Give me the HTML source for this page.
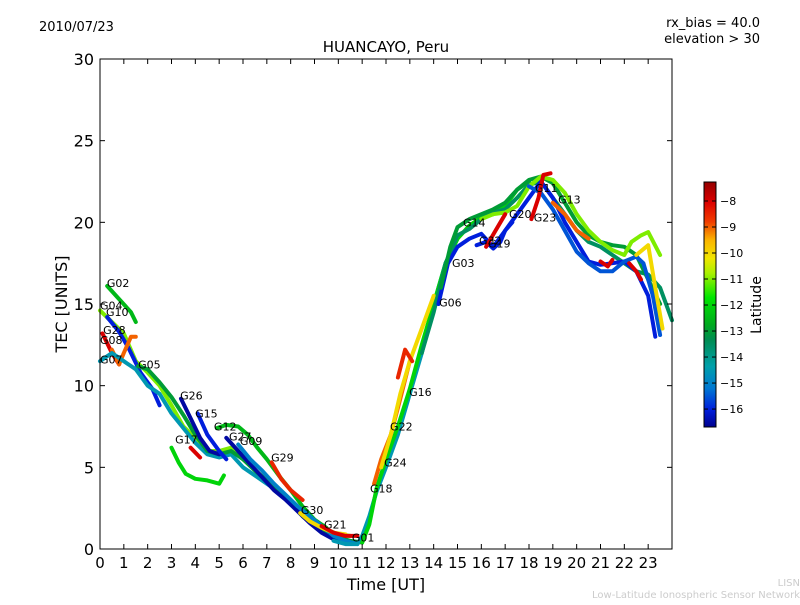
<!DOCTYPE html>
<html><head><meta charset="utf-8"><style>
body{margin:0;background:#fff;}
svg text{font-family:"DejaVu Sans","Liberation Sans",sans-serif;}
</style></head><body>
<svg id="chart" width="800" height="600" xmlns="http://www.w3.org/2000/svg">
<rect width="800" height="600" fill="#fff"/>
<text x="39" y="31" font-size="13">2010/07/23</text>
<text x="760" y="27" font-size="13" text-anchor="end">rx_bias = 40.0</text>
<text x="760" y="43" font-size="13" text-anchor="end">elevation &gt; 30</text>
<text x="386" y="52" font-size="15" text-anchor="middle">HUANCAYO, Peru</text>
<g id="tracks"></g>
<g id="labels"></g>
<rect x="100" y="59" width="572" height="490" fill="none" stroke="#000" stroke-width="1"/>
<g id="axes"></g>
<text x="386" y="590" font-size="16" text-anchor="middle">Time [UT]</text>
<text transform="translate(67,304) rotate(-90)" font-size="16" text-anchor="middle">TEC [UNITS]</text>
<g id="cbar"></g>
<text transform="translate(761,305) rotate(-90)" font-size="14" text-anchor="middle">Latitude</text>
<text x="800" y="586" font-size="10" fill="#ccc" text-anchor="end">LISN</text>
<text x="800" y="598" font-size="10" fill="#ccc" text-anchor="end">Low-Latitude Ionospheric Sensor Network</text>
</svg>
<script>
const xTicks=[0,1,2,3,4,5,6,7,8,9,10,11,12,13,14,15,16,17,18,19,20,21,22,23];
const yTicks=[0,5,10,15,20,25,30];
const cbTicks=[-8,-9,-10,-11,-12,-13,-14,-15,-16];
const trackLat=[-12.5,-11,-16,-8,-9,-14.5,-13,-16.5,-16,-12,-8,-12.5,-16.5,-15,-8.5,-10,-8,-14.5,-12,-9,-10,-8.5,-13.5,-16,-13,-11,-15.5,-8,-9,-16,-8,-8,-8,-10];
const trackT=[
[0.3,0.8,1.3,1.5],
[0,0.5,1,1.5,2,2.5,3,3.5,4,4.5,5,5.5,6,7,8,9,10,10.5],
[0.3,0.8,1.2,1.7,2.2,2.5],
[0.1,0.5,0.8],
[0.5,0.8,1.0,1.3,1.5],
[0,0.5,1,1.5,2,2.5,3,3.5,4,4.5,5,5.5,6,6.5,7,8],
[1.6,2,2.5,3,3.5,4,4.5,5,5.5,6,6.5,7,7.5,8,8.5,9,9.5,10,10.5,11],
[3.4,3.8,4.2,4.6,5],
[4.1,4.5,5,5.3],
[3.0,3.3,3.6,4,4.5,5,5.2],
[3.8,4.2],
[4.9,5.3,5.8,6.2,6.6,7,7.5,8,8.5,9,9.5],
[5.3,5.8,6.3,6.8,7.3,7.8,8.3,8.8,9.3,9.8,10.3],
[5.8,6.3,6.8,7.3,7.8,8.3,8.8,9.3,9.8,10.3,10.8],
[7.2,7.6,8.0,8.5],
[8.4,8.8,9.3,9.8,10.3],
[9.3,9.8,10.3,10.8],
[9.8,10.3,10.8,11,11.3,11.6,12,12.5,13,13.5,14,14.5,15],
[11,11.3,11.6,12,12.5,13,13.5,14,14.5,15,15.5,16,16.5,17,17.5,18],
[11.5,11.8,12.2,12.6,13],
[11.8,12.2,12.6,13,13.5,14],
[12.5,12.8,13.1],
[13.5,14,14.5,15,15.5,16,16.5,17,17.5,18,18.5,19,19.5,20,20.5,21,21.5,22,22.5,23,23.5,24],
[14.2,14.6,15,15.5,16,16.5,17,17.5,18,18.5,19,19.5,20,20.5,21,21.5,22,22.5,23,23.3],
[14.3,14.7,15,15.5,16,16.5,17,17.5,18,18.5,19,19.5,20,20.5,21,21.5,22,22.5,23,23.5],
[16,16.5,17,17.5,18,18.5,19,19.5,20,20.5,21,21.5,22,22.3,22.7,23,23.5],
[18,18.5,19,19.5,20,20.5,21,21.5,22,22.5,22.8,23.2,23.5],
[18.1,18.4,18.6,18.9],
[19,19.5,20,20.5],
[15.8,16.2,16.5,16.8,17,17.3],
[16.2,16.6,17],
[21,21.3,21.5],
[22.2,22.5,22.7],
[22.5,23,23.3,23.6]
];
const trackV=[
[16.1,15.3,14.5,13.9],
[14.6,13.9,13.2,11.5,10.8,10.0,8.8,7.5,6.8,6.0,6.0,6.2,5.5,4.2,2.8,1.5,0.9,0.8],
[14.2,13.3,12.3,10.8,9.8,8.8],
[13.2,12.0,11.3],
[12.2,11.3,12.0,13.0,13.0],
[11.5,12.0,11.5,11.0,10.0,9.5,8.3,7.4,6.5,5.8,5.6,5.8,5.0,4.5,4.0,3.0],
[11.2,11.0,10.2,9.3,8.2,7.0,6.0,5.8,6.0,5.5,4.8,4.2,3.5,2.8,2.0,1.4,1.0,0.7,0.5,0.4],
[9.2,8.0,6.8,6.0,5.8],
[8.3,7.0,6.0,5.5],
[6.2,5.3,4.6,4.3,4.2,4.0,4.5],
[6.2,5.6],
[7.4,7.6,7.5,7.0,6.2,5.5,4.5,3.6,2.6,1.8,1.3],
[6.8,6.0,5.2,4.4,3.6,3.0,2.3,1.6,1.0,0.6,0.4],
[6.4,5.5,4.8,4.0,3.3,2.6,2.0,1.4,0.8,0.5,0.3],
[5.3,4.3,3.6,3.0],
[2.2,1.7,1.3,1.0,0.9],
[1.4,1.0,0.8,0.8],
[0.5,0.3,0.3,0.8,2,3.5,5,7,9.5,12,15,17.5,19],
[0.4,1.5,3.7,5.5,7.5,9.8,12.5,15,17.5,19,19.8,20.3,20.5,21,22,22.5],
[4,5.5,7,9.2,11.5],
[5,7,9.5,11.5,13.5,15.5],
[10.5,12.2,11.5],
[12,14.5,17.5,19.2,19.6,20.2,20.6,20.8,21.5,22.3,22.5,21.5,20.5,19.5,18.8,18.5,18,17.5,17.0,16.8,16,14],
[15,17.5,18.5,19.0,19.3,18.5,19.5,20.5,21.5,22.5,21.5,20,18.8,17.6,17.4,17.5,17.6,17.0,15.5,13],
[16,18.5,19.7,20.2,20.5,20.8,21.2,22.0,22.6,22.8,22.4,21.2,20.0,19.2,18.8,18.6,18.5,18.0,16.5,15],
[20.2,20.5,20.6,21,22.2,22.8,22.6,21.8,20.5,19.5,18.8,18.3,18.0,18.8,19.2,19.4,18],
[22.2,21.8,20.8,19.5,18.2,17.5,17.0,17.0,17.6,17.9,17.5,15.5,13.1],
[20.2,21.5,22.9,23.0],
[21.2,20.5,19.5,19.0],
[18.6,18.8,18.4,18.8,19.5,20],
[18.5,19.5,20.5],
[17.6,17.3,17.7],
[17.5,17.0,16.5],
[18,18.6,16,13.5]
];
const labelNames=["G02","G04","G10","G28","G08","G07","G05","G26","G15","G12","G17","G27","G09","G29","G30","G21","G01","G18","G24","G22","G16","G06","G03","G14","G32","G19","G20","G11","G23","G13"];
const labelT=[0.29,0,0.25,0.13,0,0,1.6,3.36,3.99,4.78,3.15,5.41,5.87,7.18,8.43,9.4,10.57,11.33,11.92,12.17,12.97,14.23,14.77,15.23,15.9,16.28,17.16,18.25,18.2,19.22];
const labelV=[16.3,14.9,14.5,13.4,12.8,11.6,11.3,9.4,8.3,7.5,6.7,6.9,6.6,5.6,2.4,1.5,0.7,3.7,5.3,7.5,9.6,15.1,17.5,20.0,18.9,18.7,20.5,22.1,20.3,21.4];

const X0=100,X1=672,Y0=549,Y1=59;
const xs=t=>X0+t*(X1-X0)/24;
const ys=v=>Y0-v*(Y0-Y1)/30;
const CB_TOP=182,CB_BOT=427,LMAX=-7.27,LMIN=-16.69;
const cbY=l=>CB_TOP+(LMAX-l)*(CB_BOT-CB_TOP)/(LMAX-LMIN);
const CM=[[0,0,0,140],[0.073,0,30,220],[0.16,0,120,210],[0.25,0,160,170],[0.36,0,140,80],[0.42,0,170,30],[0.53,0,230,0],[0.63,170,240,0],[0.69,240,230,0],[0.765,250,180,0],[0.84,240,60,0],[0.92,220,0,0],[1,150,0,0]];
function cmap(f){f=Math.max(0,Math.min(1,f));
 for(let i=1;i<CM.length;i++){if(f<=CM[i][0]){const a=CM[i-1],b=CM[i],u=(f-a[0])/(b[0]-a[0]);
  return `rgb(${[1,2,3].map(k=>Math.round(a[k]+u*(b[k]-a[k]))).join(',')})`;}}
 return 'rgb(150,0,0)';}
const latColor=l=>cmap((l-LMIN)/(LMAX-LMIN));
const NS="http://www.w3.org/2000/svg";
function mk(tag,attrs,parent){const e=document.createElementNS(NS,tag);for(const k in attrs)e.setAttribute(k,attrs[k]);parent.appendChild(e);return e;}
const tg=document.getElementById('tracks');
trackT.forEach((ts,i)=>{
 const pts=ts.map((t,j)=>xs(t).toFixed(1)+','+ys(trackV[i][j]).toFixed(1)).join(' ');
 const p=mk('polyline',{points:pts,fill:'none',stroke:latColor(trackLat[i]),'stroke-width':4,'stroke-linejoin':'round','stroke-linecap':'round'},tg);
 
 
});
const lg=document.getElementById('labels');
labelNames.forEach((n,i)=>{
 const t=mk('text',{x:xs(labelT[i]),y:ys(labelV[i])+4,'font-size':11},lg);
 t.textContent=n;
 
 
});
const ax=document.getElementById('axes');
xTicks.forEach(t=>{
 const x=xs(t);
 mk('line',{x1:x,x2:x,y1:Y0,y2:Y0-5,stroke:'#000'},ax);
 mk('line',{x1:x,x2:x,y1:Y1,y2:Y1+5,stroke:'#000'},ax);
 const tx=mk('text',{x:x,y:Y0+19,'font-size':15,'text-anchor':'middle'},ax);
 tx.textContent=t;
 
 
});
yTicks.forEach(v=>{
 const y=ys(v);
 mk('line',{x1:X0,x2:X0+5,y1:y,y2:y,stroke:'#000'},ax);
 mk('line',{x1:X1,x2:X1-5,y1:y,y2:y,stroke:'#000'},ax);
 const tx=mk('text',{x:X0-6,y:y+6,'font-size':16,'text-anchor':'end'},ax);
 tx.textContent=v;
 
 
});
const cb=document.getElementById('cbar');
for(let y=CB_TOP;y<CB_BOT;y++){
 const l=LMAX-(y-CB_TOP)*(LMAX-LMIN)/(CB_BOT-CB_TOP);
 mk('rect',{x:704,y:y,width:12,height:1.2,fill:latColor(l)},cb);
}
mk('rect',{x:704,y:CB_TOP,width:12,height:CB_BOT-CB_TOP,fill:'none',stroke:'#000'},cb);
cbTicks.forEach(l=>{
 const y=cbY(l);
 mk('line',{x1:712,x2:716,y1:y,y2:y,stroke:'#000'},cb);
 mk('line',{x1:704,x2:708,y1:y,y2:y,stroke:'#000'},cb);
 const tx=mk('text',{x:720,y:y+4,'font-size':11},cb);
 tx.textContent='\u2212'+Math.abs(l);
 
 
});
</script>
</body></html>
